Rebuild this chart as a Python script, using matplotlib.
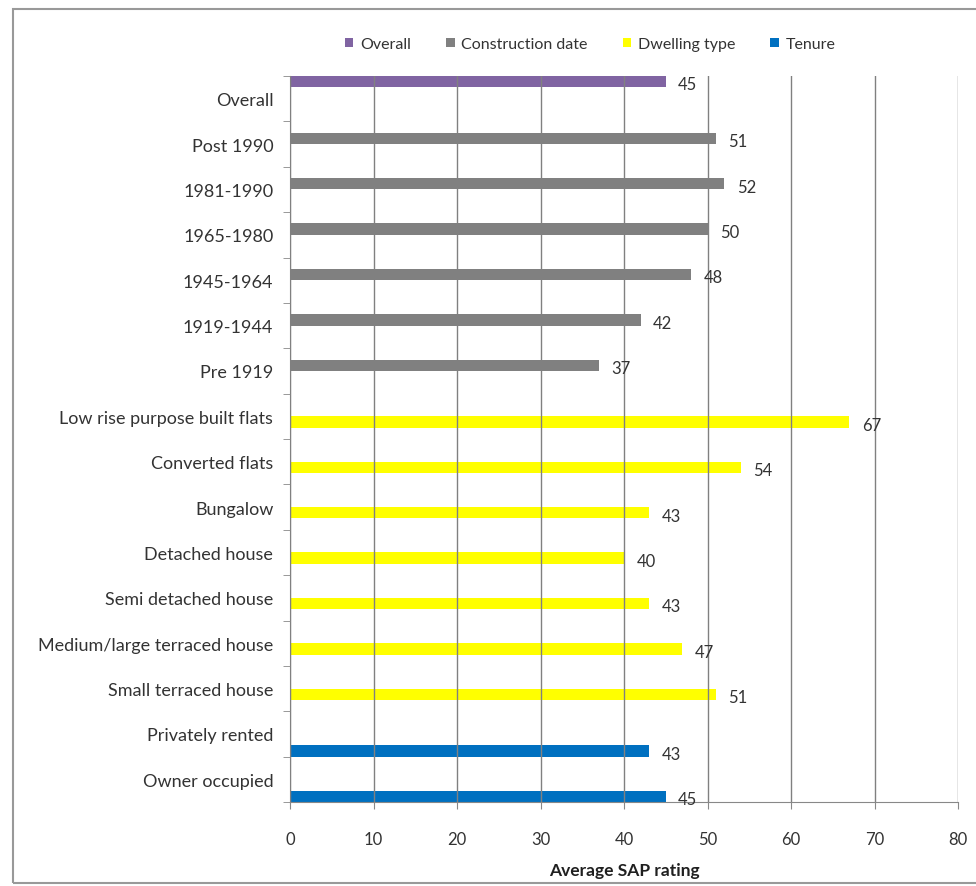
import matplotlib
matplotlib.use('Agg')
import matplotlib.pyplot as plt
import matplotlib.patches as patches
import numpy as np

plt.rcParams['font.family'] = ['Lato', 'DejaVu Sans']

# categories, top to bottom
categories = ['Overall', 'Post 1990', '1981-1990', '1965-1980', '1945-1964', '1919-1944',
              'Pre 1919', 'Low rise purpose built flats', 'Converted flats', 'Bungalow',
              'Detached house', 'Semi detached house', 'Medium/large terraced house',
              'Small terraced house', 'Privately rented', 'Owner occupied']
groups = ['Overall', 'Construction date', 'Construction date', 'Construction date',
          'Construction date', 'Construction date', 'Construction date',
          'Dwelling type', 'Dwelling type', 'Dwelling type', 'Dwelling type',
          'Dwelling type', 'Dwelling type', 'Dwelling type', 'Tenure', 'Tenure']
values = [45, 51, 52, 50, 48, 42, 37, 67, 54, 43, 40, 43, 47, 51, 43, 45]

series = ['Overall', 'Construction date', 'Dwelling type', 'Tenure']
colors = {'Overall': '#8064A2', 'Construction date': '#808080',
          'Dwelling type': '#FFFF00', 'Tenure': '#0070C0'}

txt = '#333333'
fig = plt.figure(figsize=(9.76, 8.87), dpi=100)
ax = fig.add_axes([290/976, 1 - 803/887, 668/976, 726/887])

n = len(series)
h = 1.0 / n
y = np.arange(len(categories))
for k, s in enumerate(series):
    off = -0.5 + h * (k + 0.5)
    vals = [v if g == s else 0 for v, g in zip(values, groups)]
    bars = ax.barh(y + off, vals, height=h, color=colors[s], label=s, zorder=1)
    for b, v, g in zip(bars, vals, groups):
        if g == s:
            ax.annotate(str(v), (v, b.get_y() + b.get_height() / 2), xytext=(9, -2),
                        textcoords='offset points', ha='left', va='center',
                        fontsize=12, color=txt)

ax.set_xlim(0, 80)
ax.set_ylim(len(categories) - 0.5, -0.5)
ax.set_xticks(range(0, 81, 10))
ax.set_yticks(y)
ax.set_yticklabels(categories)
ax.set_yticks(np.arange(-0.5, len(categories), 1), minor=True)
ax.tick_params(axis='y', which='major', length=0, pad=12, labelsize=13, labelcolor=txt)
ax.tick_params(axis='y', which='minor', length=5, color='#888888')
ax.tick_params(axis='x', length=5, color='#888888', pad=16, labelsize=12, labelcolor=txt)
ax.xaxis.grid(True, color='#808080', linewidth=1.0, zorder=3)
ax.set_axisbelow(False)
for sp in ['top', 'right']:
    ax.spines[sp].set_visible(False)
for sp in ['left', 'bottom']:
    ax.spines[sp].set_color('#888888')
ax.set_xlabel('Average SAP rating', fontsize=12.5, fontweight='bold', labelpad=11, color='#202020')

fig.legend(loc='center', bbox_to_anchor=(590/976, 1 - 45/887), ncol=4, frameon=False,
           fontsize=11.5, handlelength=0.55, handleheight=0.55, handletextpad=0.4,
           columnspacing=2.2, labelcolor=txt)

fig.patches.append(patches.Rectangle((13/976, 1 - 884/887), 1.0, 874/887, transform=fig.transFigure,
                                     fill=False, edgecolor='#999999', linewidth=1.5))

fig.savefig('out.png', dpi=100)
